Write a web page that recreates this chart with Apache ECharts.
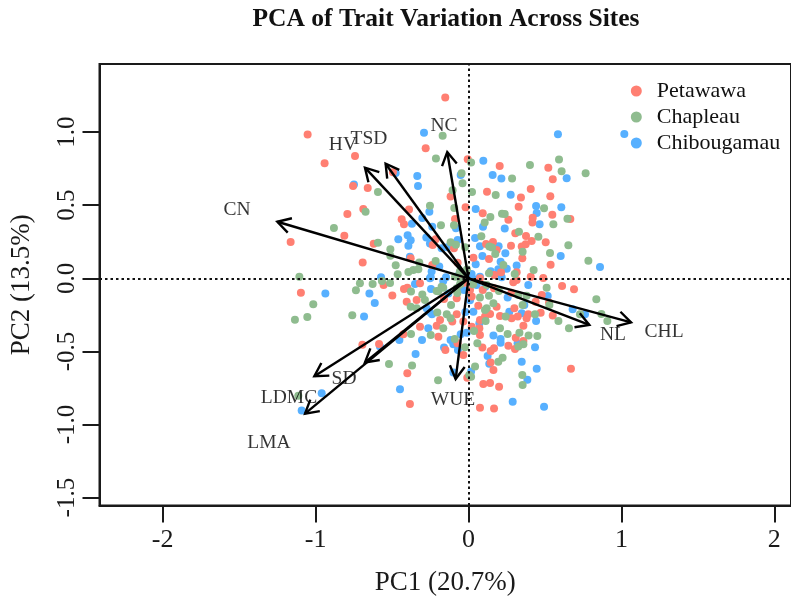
<!DOCTYPE html>
<html>
<head>
<meta charset="utf-8">
<script src="https://cdn.jsdelivr.net/npm/echarts@6/dist/echarts.min.js"></script>
<style>
  html, body { margin: 0; padding: 0; background: #fff; }
  #chart { width: 791px; height: 600px; }
</style>
</head>
<body>
<div id="chart"></div>
<script>
const xTicks = [-2, -1, 0, 1, 2]
const yTicks = [-1.5, -1, -0.5, 0, 0.5, 1]

// site scores, PC1 / PC2
const petawawa = [
  [-0.152,1.236],[-1.052,0.983],[-0.941,0.787],[-0.742,0.837],[-0.28,0.889],[-0.755,0.632],[-0.659,0.618],[-0.494,0.725],
  [-0.792,0.44],[-0.688,0.474],[-0.812,0.292],[-0.389,0.47],[-0.437,0.404],[-0.422,0.369],[-1.163,0.249],[-0.62,0.237],
  [-0.692,0.109],[-0.117,0.559],[-0.019,0.486],[-0.088,0.406],[-0.215,0.267],[-0.234,0.228],[-0.095,0.205],[-0.378,0.137],
  [-0.071,0.107],[-0.237,0.091],[-0.005,0.814],
  [0.204,0.768],[0.522,0.757],[0.551,0.677],[0.121,0.593],[0.407,0.611],[0.343,0.552],[0.535,0.561],[0.328,0.49],
  [0.548,0.435],[0.093,0.445],[0.261,0.401],[0.42,0.415],[0.418,0.381],[0.666,0.406],[0.306,0.308],[0.376,0.29],
  [0.16,0.249],[0.413,0.255],[0.505,0.246],[0.278,0.223],[0.348,0.217],[0.374,0.233],[0.115,0.235],[0.184,0.194],
  [0.352,0.137],[0.134,0.132],[0.032,0.141],[0.537,0.093],[0.213,0.041],[0.315,0.041],[0.169,0.023],[0.407,0.011],
  [0.489,0.002],[0.075,0],
  [-1.096,-0.098],[-0.555,-0.046],[-0.498,-0.118],[-0.422,-0.073],[-0.4,-0.064],[-0.317,-0.034],[-0.404,-0.16],[-0.339,-0.148],
  [-0.16,-0.141],[-0.077,-0.137],[-0.077,-0.246],[-0.034,-0.296],[-0.186,-0.285],[-0.208,-0.324],[-0.106,-0.296],[-0.317,-0.331],
  [-0.197,-0.399],[-0.426,-0.383],[-0.694,-0.454],[-0.585,-0.449],[-0.151,-0.49],[-0.072,-0.445],[-0.034,-0.524],[-0.4,-0.65],
  [-0.383,-0.86],[-0.008,-0.68],
  [0.315,-0.011],[0.293,-0.027],[0.612,-0.052],[0.69,-0.075],[0.479,-0.114],[0.093,-0.08],[0.167,-0.068],[0.28,-0.098],
  [0.439,-0.16],[0.527,-0.166],[0.021,-0.125],[0.064,-0.187],[0.184,-0.194],[0.3,-0.205],[0.141,-0.244],[0.108,-0.262],
  [0.075,-0.285],[0.206,-0.258],[0.282,-0.274],[0.322,-0.262],[0.38,-0.274],[0.391,-0.246],[0.472,-0.235],[0.551,-0.255],
  [0.359,-0.324],[0.071,-0.342],[0.021,-0.331],[0.075,-0.388],[0.309,-0.406],[0.359,-0.429],[0.261,-0.461],[0.304,-0.483],
  [0.167,-0.479],[0.145,-0.497],[0.091,-0.474],[0.145,-0.575],[0.163,-0.627],[0.67,-0.618],[0.097,-0.723],[0.141,-0.716],
  [0.2,-0.741],[0.075,-0.885],[0.167,-0.891],
  [-0.03,-0.03],[0.01,-0.08],[-0.04,0.02]
]
const chapleau = [
  [-0.169,0.976],[-0.213,0.819],[-0.045,0.718],[-0.039,0.65],[-0.104,0.602],[-0.592,0.591],[-0.673,0.456],[-0.88,0.344],
  [-0.252,0.497],[-0.093,0.481],[-0.18,0.363],[-0.095,0.363],[-0.592,0.244],[-0.511,0.198],[-0.511,0.155],[-0.476,0.089],
  [-0.463,0.027],[-0.393,0.043],[-0.361,0.057],[-0.328,0.062],[-0.322,0.109],[-0.215,0.119],[-0.117,0.246],[-0.082,0.23],
  [-0.023,0.212],[-1.106,0.011],[-0.056,0.046],[-0.088,0.011],
  [0.017,0.793],[0.592,0.812],[0.402,0.775],[0.609,0.732],[0.285,0.682],[0.766,0.718],[0.023,0.59],[0.178,0.57],
  [0.494,0.479],[0.219,0.442],[0.237,0.44],[0.143,0.42],[0.106,0.381],[0.647,0.408],[0.555,0.369],[0.33,0.319],
  [0.457,0.285],[0.084,0.287],[0.653,0.226],[0.136,0.217],[0.154,0.21],[0.354,0.182],[0.175,0.166],[0.533,0.173],
  [0.228,0.091],[0.784,0.121],[0.426,0.057],[0.302,0.03],[0.134,0.034],
  [-0.71,-0.034],[-0.627,-0.039],[-0.566,-0.018],[-0.513,-0.032],[-0.736,-0.082],[-1.015,-0.178],[-1.135,-0.283],[-1.054,-0.265],
  [-0.76,-0.253],[-0.376,-0.091],[-0.302,-0.11],[-0.285,-0.148],[-0.378,-0.194],[-0.339,-0.205],[-0.208,-0.087],[-0.176,-0.057],
  [-0.077,-0.068],[-0.114,-0.182],[-0.204,-0.233],[-0.142,-0.246],[-0.117,-0.274],[-0.165,-0.342],[-0.247,-0.388],[-0.376,-0.381],
  [-0.09,-0.415],[-0.023,-0.472],[-0.52,-0.586],[-0.369,-0.597],[-0.199,-0.698],[-1.113,-0.803],[0.005,-0.661],
  [0.511,-0.064],[0.119,-0.046],[0.836,-0.144],[0.199,-0.087],[0.134,-0.119],[0.075,-0.132],[0.326,-0.114],[0.38,-0.119],
  [0.529,-0.182],[0.354,-0.182],[0.163,-0.171],[0.119,-0.205],[0.108,-0.217],[0.729,-0.246],[0.869,-0.244],[0.908,-0.292],
  [0.588,-0.292],[0.657,-0.342],[0.435,-0.246],[0.243,-0.262],[0.112,-0.292],[0.206,-0.342],[0.036,-0.36],[0.256,-0.381],
  [0.333,-0.372],[0.393,-0.392],[0.45,-0.394],[0.058,-0.445],[0.359,-0.451],[0.326,-0.467],[0.223,-0.543],[0.195,-0.57],
  [0.043,-0.604],[0.352,-0.661],[0.354,-0.729],[0.017,-0.673],
  [-0.02,0.03],[0.03,-0.04],[-0.05,-0.02],[-0.01,0.06],[-0.056,-0.043],[-0.073,-0.1],[-0.165,-0.064],[-0.197,-0.089]
]
const chibougamau = [
  [-0.291,0.996],[-0.749,0.641],[-0.476,0.72],[-0.335,0.7],[-0.33,0.632],[-0.256,0.456],[-0.302,0.413],[-0.237,0.353],
  [-0.37,0.374],[-0.398,0.294],[-0.459,0.267],[-0.378,0.26],[-0.393,0.223],[-0.276,0.28],[-0.252,0.239],[-0.176,0.205],
  [-0.138,0.212],[-0.383,0.148],[-0.241,0.046],[-0.191,0.08],[-0.071,0.262],[-0.082,0.342],[-0.051,0.707],[-0.247,0.007],
  [-0.147,0.007],[-0.572,0.007],
  [0.585,0.985],[1.019,0.987],[0.097,0.805],[0.158,0.707],[0.215,0.682],[0.642,0.684],[0.276,0.572],[0.442,0.495],
  [0.607,0.486],[0.047,0.474],[0.446,0.447],[0.095,0.353],[0.237,0.34],[0.465,0.369],[0.043,0.276],[0.075,0.219],
  [0.197,0.219],[0.241,0.171],[0.091,0.153],[0.603,0.153],[0.21,0.114],[0.315,0.087],[0.047,0.096],[0.25,0.066],
  [0.145,0.048],[0.86,0.078],[0.195,0.062],[0.075,0.011],[0.217,0.007],
  [-0.936,-0.103],[-0.648,-0.103],[-0.613,-0.169],[-0.683,-0.262],[-0.245,-0.073],[-0.35,-0.039],[-0.132,-0.103],[-0.274,-0.205],
  [-0.256,-0.228],[-0.239,-0.246],[-0.263,-0.342],[-0.452,-0.422],[-0.304,-0.422],[-0.346,-0.518],[-0.579,-0.467],[-0.117,-0.422],
  [-0.099,-0.451],[-0.051,-0.383],[-0.012,-0.372],[-0.16,-0.474],[-0.069,-0.49],[-0.099,-0.645],[-0.448,-0.759],[-0.96,-0.787],
  [-1.091,-0.905],[-0.252,0],[-0.165,-0.018],
  [0.032,-0.005],[0.391,-0.046],[0.053,-0.046],[0.11,-0.057],[0.518,-0.121],[0.256,-0.132],[0.032,-0.228],[0.365,-0.182],
  [0.267,-0.228],[0.348,-0.239],[0.681,-0.212],[0.762,-0.246],[0.442,-0.292],[0.071,-0.308],[0.163,-0.392],[0.21,-0.415],
  [0.21,-0.44],[0.435,-0.472],[0.321,-0.445],[0.125,-0.531],[0.136,-0.584],[0.348,-0.57],[0.446,-0.618],[0.385,-0.693],
  [0.017,-0.638],[0.289,-0.844],[0.494,-0.878],
  [-0.06,0.03],[0.02,0.03],[-0.03,-0.08],[0.01,-0.15],[-0.02,-0.23]
]

// trait loadings: arrow tip and where the label sits
const traits = ['CN', 'HV', 'TSD', 'NC', 'CHL', 'NL', 'WUE', 'SD', 'LDMC', 'LMA']
const tipPC1 = [-1.25, -0.677, -0.542, -0.139, 1.063, 0.79, -0.084, -0.677, -1.008, -1.069]
const tipPC2 = [0.387, 0.757, 0.784, 0.864, -0.301, -0.319, -0.689, -0.575, -0.67, -0.926]
const labelPC1 = [-1.514, -0.821, -0.651, -0.16, 1.279, 0.945, -0.101, -0.814, -1.174, -1.305]
const labelPC2 = [0.467, 0.912, 0.953, 1.042, -0.366, -0.388, -0.832, -0.688, -0.819, -1.126]

const serif = '"Liberation Serif", "Times New Roman", serif'
const ink = '#1a1a1a'

const chart = echarts.init(document.getElementById('chart'))

const renderArrow = (params, api) => {
  const start = api.coord([0, 0])
  const tip = api.coord([api.value(0), api.value(1)])
  const angle = Math.atan2(tip[1] - start[1], tip[0] - start[0])
  const arm = 15
  const spread = 0.52
  const head = [
    [tip[0] - arm * Math.cos(angle - spread), tip[1] - arm * Math.sin(angle - spread)],
    tip,
    [tip[0] - arm * Math.cos(angle + spread), tip[1] - arm * Math.sin(angle + spread)]
  ]
  const style = { stroke: '#000', fill: null, lineWidth: 2.4 }
  return {
    type: 'group',
    children: [
      { type: 'line', shape: { x1: start[0], y1: start[1], x2: tip[0], y2: tip[1] }, style },
      { type: 'polyline', shape: { points: head }, style }
    ]
  }
}

const siteSeries = (name, data, color, z) => ({
  name,
  type: 'scatter',
  data,
  z,
  symbolSize: 8,
  itemStyle: { color, opacity: 1 },
  silent: true
})

chart.setOption({
  animation: false,
  backgroundColor: '#fff',
  title: {
    text: 'PCA of Trait Variation Across Sites',
    left: 441,
    top: 1,
    textAlign: 'center',
    textStyle: { fontFamily: serif, fontWeight: 'bold', fontSize: 25.5, color: '#111' }
  },
  legend: {
    data: ['Petawawa', 'Chapleau', 'Chibougamau'],
    orient: 'vertical',
    left: 630.8,
    top: 80,
    padding: 0,
    itemWidth: 31,
    itemHeight: 11,
    itemGap: 4,
    icon: 'circle',
    selectedMode: false,
    textStyle: { fontFamily: serif, fontSize: 22, color: '#111', lineHeight: 22 }
  },
  grid: {
    left: 99.5,
    right: 0,
    top: 64,
    bottom: 94.5,
    show: true,
    borderColor: '#1a1a1a',
    borderWidth: 2,
    outerBoundsMode: 'none'
  },
  xAxis: {
    type: 'value',
    min: -2.413,
    max: 2.109,
    name: 'PC1 (20.7%)',
    nameLocation: 'middle',
    nameGap: 64,
    nameTextStyle: { fontFamily: serif, fontSize: 27, color: ink },
    axisLine: { show: true, onZero: false, lineStyle: { color: ink, width: 2 } },
    axisTick: { show: true, length: 17, customValues: xTicks, lineStyle: { color: ink, width: 2 } },
    axisLabel: { customValues: xTicks, margin: 22, fontFamily: serif, fontSize: 26, color: ink },
    splitLine: { show: false }
  },
  yAxis: {
    type: 'value',
    min: -1.554,
    max: 1.466,
    name: 'PC2 (13.5%)',
    nameLocation: 'middle',
    nameGap: 64,
    nameTextStyle: { fontFamily: serif, fontSize: 27, color: ink },
    axisLine: { show: true, onZero: false, lineStyle: { color: ink, width: 2 } },
    axisTick: { show: true, length: 17, customValues: yTicks, lineStyle: { color: ink, width: 2 } },
    axisLabel: {
      customValues: yTicks,
      rotate: 90,
      margin: 20,
      fontFamily: serif,
      fontSize: 25,
      color: ink,
      formatter: v => v.toFixed(1)
    },
    splitLine: { show: false }
  },
  series: [
    siteSeries('Chibougamau', chibougamau, '#57B0FF', 2),
    siteSeries('Petawawa', petawawa, '#FF7F72', 3),
    siteSeries('Chapleau', chapleau, '#8FBC8F', 4),
    {
      type: 'custom',
      z: 6,
      silent: true,
      renderItem: renderArrow,
      data: tipPC1.map((v, i) => [v, tipPC2[i]]),
      markLine: {
        silent: true,
        symbol: 'none',
        label: { show: false },
        lineStyle: { color: '#111', type: [2.5, 3], width: 2 },
        data: [{ xAxis: 0 }, { yAxis: 0 }]
      }
    },
    {
      type: 'scatter',
      z: 7,
      silent: true,
      symbolSize: 1,
      itemStyle: { color: 'transparent' },
      data: labelPC1.map((v, i) => ({ value: [v, labelPC2[i]], name: traits[i] })),
      label: {
        show: true,
        position: 'inside',
        formatter: '{b}',
        fontFamily: serif,
        fontSize: 19.5,
        color: '#000'
      }
    }
  ]
})
</script>
</body>
</html>
